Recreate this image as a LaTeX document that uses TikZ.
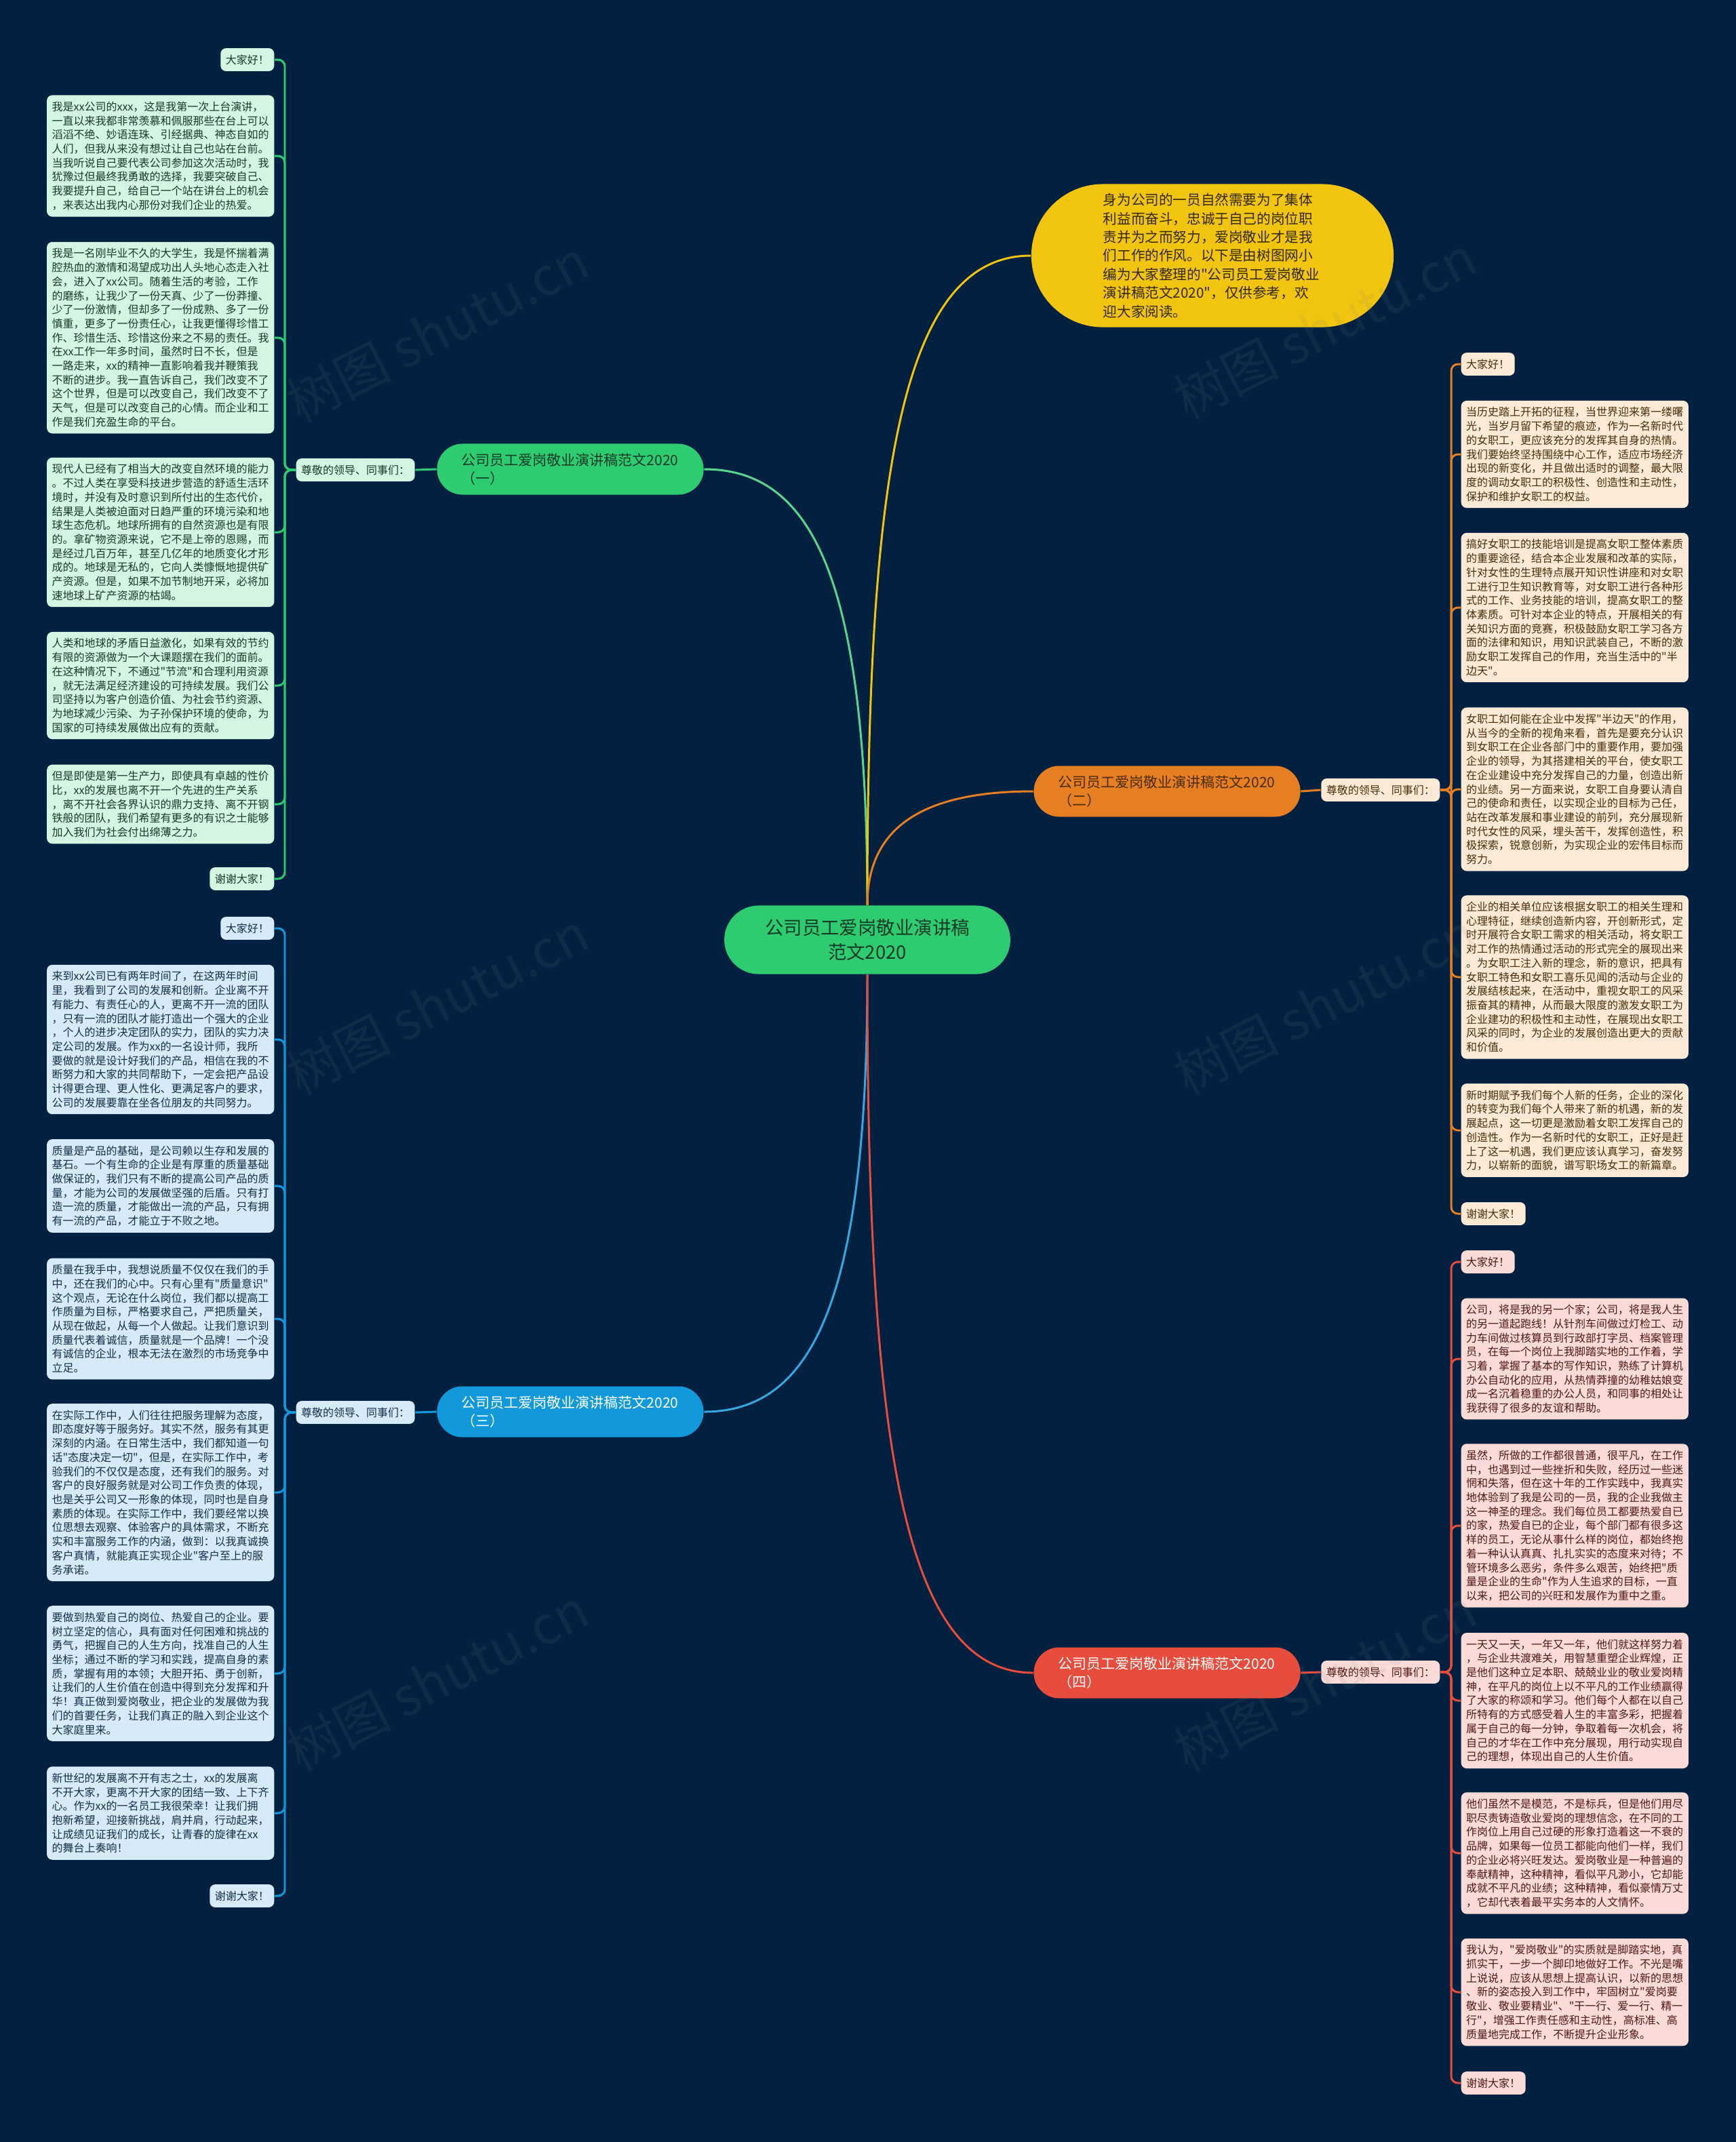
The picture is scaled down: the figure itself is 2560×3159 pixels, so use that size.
\documentclass[tikz,border=0pt]{standalone}
\usepackage{fontspec}
\setmainfont{Noto Sans CJK SC}[Ligatures=TeXOff]
\usetikzlibrary{shapes.misc}
\definecolor{bgnavy}{RGB}{2,33,64}
\definecolor{gmain}{RGB}{46,204,113}
\definecolor{omain}{RGB}{230,126,34}
\definecolor{bmain}{RGB}{17,153,220}
\definecolor{rmain}{RGB}{231,76,60}
\definecolor{ymain}{RGB}{241,196,15}
\definecolor{gleaf}{RGB}{213,245,227}
\definecolor{bleaf}{RGB}{214,234,248}
\definecolor{oleaf}{RGB}{252,234,214}
\definecolor{rleaf}{RGB}{250,219,216}
\definecolor{gink}{RGB}{22,58,38}
\definecolor{bink}{RGB}{20,46,74}
\definecolor{oink}{RGB}{74,44,12}
\definecolor{rink}{RGB}{80,24,18}
\definecolor{yink}{RGB}{50,40,5}
\tikzset{
	small/.style={font=\fontsize{4.55pt}{5.89pt}\selectfont},
	leaf/.style={small, rectangle, rounded corners=2.3pt,
		inner xsep=0.075cm, inner ysep=0.095cm,
		text width=3.2cm, align=left},
	tag/.style={small, rectangle, rounded corners=2.3pt,
		inner xsep=0.075cm, inner ysep=0.095cm},
	leafg/.style={leaf, fill=gleaf, text=gink},
	leafb/.style={leaf, fill=bleaf, text=bink},
	leafo/.style={leaf, fill=oleaf, text=oink},
	leafr/.style={leaf, fill=rleaf, text=rink},
	tagg/.style={tag, fill=gleaf, text=gink},
	tagb/.style={tag, fill=bleaf, text=bink},
	tago/.style={tag, fill=oleaf, text=oink},
	tagr/.style={tag, fill=rleaf, text=rink},
	branch/.style={rounded rectangle, minimum width=3.93cm,
		minimum height=0.75cm, inner xsep=0pt, inner ysep=0pt,
		text width=3.2cm, align=left,
		font=\fontsize{5.97pt}{7.68pt}\selectfont},
	link/.style={line width=0.85pt},
	tree/.style={line width=0.85pt, rounded corners=2.8pt},
	wmark/.style={rotate=27, text=gray, text opacity=0.11,
		font=\fontsize{22pt}{22pt}\selectfont}
}
\begin{document}
\begin{tikzpicture}[x=0.01cm, y=-0.01cm]
	\fill[bgnavy] (0,0) rectangle (2560,3159);
	\useasboundingbox (0,0) rectangle (2560,3159);

	% centre and main topics
	\node[rounded rectangle, fill=gmain, text=gink, minimum width=4.45cm,
		minimum height=1.01cm, align=center,
		font=\fontsize{7.8pt}{10pt}\selectfont] (root) at (1279,1386)
		{公司员工爱岗敬业演讲稿\\范文2020};
	\node[rounded rectangle, fill=ymain, text=yink, minimum width=5.34cm,
		minimum height=2.11cm, inner xsep=0pt, text width=3.22cm, align=left,
		font=\fontsize{5.86pt}{7.8pt}\selectfont] (intro) at (1788,377)
		{身为公司的一员自然需要为了集体\\利益而奋斗，忠诚于自己的岗位职\\责并为之而努力，爱岗敬业才是我\\们工作的作风。以下是由树图网小\\编为大家整理的"公司员工爱岗敬业\\演讲稿范文2020"，仅供参考，欢\\迎大家阅读。};
	\node[branch, fill=gmain, text=gink] (b1) at (841,692) {公司员工爱岗敬业演讲稿范文2020\\（一）};
	\node[branch, fill=omain, text=oink] (b2) at (1721,1167) {公司员工爱岗敬业演讲稿范文2020\\（二）};
	\node[branch, fill=bmain, text=white] (b3) at (841,2082) {公司员工爱岗敬业演讲稿范文2020\\（三）};
	\node[branch, fill=rmain, text=white] (b4) at (1721,2467) {公司员工爱岗敬业演讲稿范文2020\\（四）};

	\node[tagg, anchor=west] (lab1) at (436,693) {尊敬的领导、同事们：};
	\node[tago, anchor=east] (lab2) at (2124,1165) {尊敬的领导、同事们：};
	\node[tagb, anchor=west] (lab3) at (436,2083) {尊敬的领导、同事们：};
	\node[tagr, anchor=east] (lab4) at (2124,2466) {尊敬的领导、同事们：};

	% speech one
	\node[tagg, anchor=east] (g0) at (405,88) {大家好！};
	\node[leafg, anchor=east] (g1) at (405,230) {我是xx公司的xxx，这是我第一次上台演讲，\\一直以来我都非常羡慕和佩服那些在台上可以\\滔滔不绝、妙语连珠、引经据典、神态自如的\\人们，但我从来没有想过让自己也站在台前。\\当我听说自己要代表公司参加这次活动时，我\\犹豫过但最终我勇敢的选择，我要突破自己、\\我要提升自己，给自己一个站在讲台上的机会\\，来表达出我内心那份对我们企业的热爱。};
	\node[leafg, anchor=east] (g2) at (405,498) {我是一名刚毕业不久的大学生，我是怀揣着满\\腔热血的激情和渴望成功出人头地心态走入社\\会，进入了xx公司。随着生活的考验，工作\\的磨练，让我少了一份天真、少了一份莽撞、\\少了一份激情，但却多了一份成熟、多了一份\\慎重，更多了一份责任心，让我更懂得珍惜工\\作、珍惜生活、珍惜这份来之不易的责任。我\\在xx工作一年多时间，虽然时日不长，但是\\一路走来，xx的精神一直影响着我并鞭策我\\不断的进步。我一直告诉自己，我们改变不了\\这个世界，但是可以改变自己，我们改变不了\\天气，但是可以改变自己的心情。而企业和工\\作是我们充盈生命的平台。};
	\node[leafg, anchor=east] (g3) at (405,785) {现代人已经有了相当大的改变自然环境的能力\\。不过人类在享受科技进步营造的舒适生活环\\境时，并没有及时意识到所付出的生态代价，\\结果是人类被迫面对日趋严重的环境污染和地\\球生态危机。地球所拥有的自然资源也是有限\\的。拿矿物资源来说，它不是上帝的恩赐，而\\是经过几百万年，甚至几亿年的地质变化才形\\成的。地球是无私的，它向人类慷慨地提供矿\\产资源。但是，如果不加节制地开采，必将加\\速地球上矿产资源的枯竭。};
	\node[leafg, anchor=east] (g4) at (405,1011) {人类和地球的矛盾日益激化，如果有效的节约\\有限的资源做为一个大课题摆在我们的面前。\\在这种情况下，不通过"节流"和合理利用资源\\，就无法满足经济建设的可持续发展。我们公\\司坚持以为客户创造价值、为社会节约资源、\\为地球减少污染、为子孙保护环境的使命，为\\国家的可持续发展做出应有的贡献。};
	\node[leafg, anchor=east] (g5) at (405,1186) {但是即使是第一生产力，即使具有卓越的性价\\比，xx的发展也离不开一个先进的生产关系\\，离不开社会各界认识的鼎力支持、离不开钢\\铁般的团队，我们希望有更多的有识之士能够\\加入我们为社会付出绵薄之力。};
	\node[tagg, anchor=east] (g6) at (405,1296) {谢谢大家！};

	% speech two
	\node[tago, anchor=west] (o0) at (2154,537) {大家好！};
	\node[leafo, anchor=west] (o1) at (2154,670) {当历史踏上开拓的征程，当世界迎来第一缕曙\\光，当岁月留下希望的痕迹，作为一名新时代\\的女职工，更应该充分的发挥其自身的热情。\\我们要始终坚持围绕中心工作，适应市场经济\\出现的新变化，并且做出适时的调整，最大限\\度的调动女职工的积极性、创造性和主动性，\\保护和维护女职工的权益。};
	\node[leafo, anchor=west] (o2) at (2154,896) {搞好女职工的技能培训是提高女职工整体素质\\的重要途径，结合本企业发展和改革的实际，\\针对女性的生理特点展开知识性讲座和对女职\\工进行卫生知识教育等，对女职工进行各种形\\式的工作、业务技能的培训，提高女职工的整\\体素质。可针对本企业的特点，开展相关的有\\关知识方面的竞赛，积极鼓励女职工学习各方\\面的法律和知识，用知识武装自己，不断的激\\励女职工发挥自己的作用，充当生活中的"半\\边天"。};
	\node[leafo, anchor=west] (o3) at (2154,1164) {女职工如何能在企业中发挥"半边天"的作用，\\从当今的全新的视角来看，首先是要充分认识\\到女职工在企业各部门中的重要作用，要加强\\企业的领导，为其搭建相关的平台，使女职工\\在企业建设中充分发挥自己的力量，创造出新\\的业绩。另一方面来说，女职工自身要认清自\\己的使命和责任，以实现企业的目标为己任，\\站在改革发展和事业建设的前列，充分展现新\\时代女性的风采，埋头苦干，发挥创造性，积\\极探索，锐意创新，为实现企业的宏伟目标而\\努力。};
	\node[leafo, anchor=west] (o4) at (2154,1441) {企业的相关单位应该根据女职工的相关生理和\\心理特征，继续创造新内容，开创新形式，定\\时开展符合女职工需求的相关活动，将女职工\\对工作的热情通过活动的形式完全的展现出来\\。为女职工注入新的理念，新的意识，把具有\\女职工特色和女职工喜乐见闻的活动与企业的\\发展结核起来，在活动中，重视女职工的风采\\振奋其的精神，从而最大限度的激发女职工为\\企业建功的积极性和主动性，在展现出女职工\\风采的同时，为企业的发展创造出更大的贡献\\和价值。};
	\node[leafo, anchor=west] (o5) at (2154,1667) {新时期赋予我们每个人新的任务，企业的深化\\的转变为我们每个人带来了新的机遇，新的发\\展起点，这一切更是激励着女职工发挥自己的\\创造性。作为一名新时代的女职工，正好是赶\\上了这一机遇，我们更应该认真学习，奋发努\\力，以崭新的面貌，谱写职场女工的新篇章。};
	\node[tago, anchor=west] (o6) at (2154,1790) {谢谢大家！};

	% speech three
	\node[tagb, anchor=east] (c0) at (405,1369) {大家好！};
	\node[leafb, anchor=east] (c1) at (405,1533) {来到xx公司已有两年时间了，在这两年时间\\里，我看到了公司的发展和创新。企业离不开\\有能力、有责任心的人，更离不开一流的团队\\，只有一流的团队才能打造出一个强大的企业\\，个人的进步决定团队的实力，团队的实力决\\定公司的发展。作为xx的一名设计师，我所\\要做的就是设计好我们的产品，相信在我的不\\断努力和大家的共同帮助下，一定会把产品设\\计得更合理、更人性化、更满足客户的要求，\\公司的发展要靠在坐各位朋友的共同努力。};
	\node[leafb, anchor=east] (c2) at (405,1749) {质量是产品的基础，是公司赖以生存和发展的\\基石。一个有生命的企业是有厚重的质量基础\\做保证的，我们只有不断的提高公司产品的质\\量，才能为公司的发展做坚强的后盾。只有打\\造一流的质量，才能做出一流的产品，只有拥\\有一流的产品，才能立于不败之地。};
	\node[leafb, anchor=east] (c3) at (405,1945) {质量在我手中，我想说质量不仅仅在我们的手\\中，还在我们的心中。只有心里有"质量意识"\\这个观点，无论在什么岗位，我们都以提高工\\作质量为目标，严格要求自己，严把质量关，\\从现在做起，从每一个人做起。让我们意识到\\质量代表着诚信，质量就是一个品牌！一个没\\有诚信的企业，根本无法在激烈的市场竞争中\\立足。};
	\node[leafb, anchor=east] (c4) at (405,2201) {在实际工作中，人们往往把服务理解为态度，\\即态度好等于服务好。其实不然，服务有其更\\深刻的内涵。在日常生活中，我们都知道一句\\话"态度决定一切"，但是，在实际工作中，考\\验我们的不仅仅是态度，还有我们的服务。对\\客户的良好服务就是对公司工作负责的体现，\\也是关乎公司又一形象的体现，同时也是自身\\素质的体现。在实际工作中，我们要经常以换\\位思想去观察、体验客户的具体需求，不断充\\实和丰富服务工作的内涵，做到：以我真诚换\\客户真情，就能真正实现企业"客户至上的服\\务承诺。};
	\node[leafb, anchor=east] (c5) at (405,2468) {要做到热爱自己的岗位、热爱自己的企业。要\\树立坚定的信心，具有面对任何困难和挑战的\\勇气，把握自己的人生方向，找准自己的人生\\坐标；通过不断的学习和实践，提高自身的素\\质，掌握有用的本领；大胆开拓、勇于创新，\\让我们的人生价值在创造中得到充分发挥和升\\华！真正做到爱岗敬业，把企业的发展做为我\\们的首要任务，让我们真正的融入到企业这个\\大家庭里来。};
	\node[leafb, anchor=east] (c6) at (405,2674) {新世纪的发展离不开有志之士，xx的发展离\\不开大家，更离不开大家的团结一致、上下齐\\心。作为xx的一名员工我很荣幸！让我们拥\\抱新希望，迎接新挑战，肩并肩，行动起来，\\让成绩见证我们的成长，让青春的旋律在xx\\的舞台上奏响！};
	\node[tagb, anchor=east] (c7) at (405,2796) {谢谢大家！};

	% speech four
	\node[tagr, anchor=west] (r0) at (2154,1861) {大家好！};
	\node[leafr, anchor=west] (r1) at (2154,2004) {公司，将是我的另一个家；公司，将是我人生\\的另一道起跑线！从针剂车间做过灯检工、动\\力车间做过核算员到行政部打字员、档案管理\\员，在每一个岗位上我脚踏实地的工作着，学\\习着，掌握了基本的写作知识，熟练了计算机\\办公自动化的应用，从热情莽撞的幼稚姑娘变\\成一名沉着稳重的办公人员，和同事的相处让\\我获得了很多的友谊和帮助。};
	\node[leafr, anchor=west] (r2) at (2154,2250) {虽然，所做的工作都很普通，很平凡，在工作\\中，也遇到过一些挫折和失败，经历过一些迷\\惘和失落，但在这十年的工作实践中，我真实\\地体验到了我是公司的一员，我的企业我做主\\这一神圣的理念。我们每位员工都要热爱自已\\的家，热爱自已的企业，每个部门都有很多这\\样的员工，无论从事什么样的岗位，都始终抱\\着一种认认真真、扎扎实实的态度来对待；不\\管环境多么恶劣，条件多么艰苦，始终把"质\\量是企业的生命"作为人生追求的目标，一直\\以来，把公司的兴旺和发展作为重中之重。};
	\node[leafr, anchor=west] (r3) at (2154,2508) {一天又一天，一年又一年，他们就这样努力着\\，与企业共渡难关，用智慧重塑企业辉煌，正\\是他们这种立足本职、兢兢业业的敬业爱岗精\\神，在平凡的岗位上以不平凡的工作业绩赢得\\了大家的称颂和学习。他们每个人都在以自己\\所特有的方式感受着人生的丰富多彩，把握着\\属于自己的每一分钟，争取着每一次机会，将\\自己的才华在工作中充分展现，用行动实现自\\己的理想，体现出自己的人生价值。};
	\node[leafr, anchor=west] (r4) at (2154,2733) {他们虽然不是模范，不是标兵，但是他们用尽\\职尽责铸造敬业爱岗的理想信念，在不同的工\\作岗位上用自己过硬的形象打造着这一不衰的\\品牌，如果每一位员工都能向他们一样，我们\\的企业必将兴旺发达。爱岗敬业是一种普遍的\\奉献精神，这种精神，看似平凡渺小，它却能\\成就不平凡的业绩；这种精神，看似豪情万丈\\，它却代表着最平实务本的人文情怀。};
	\node[leafr, anchor=west] (r5) at (2154,2938) {我认为，"爱岗敬业"的实质就是脚踏实地，真\\抓实干，一步一个脚印地做好工作。不光是嘴\\上说说，应该从思想上提高认识，以新的思想\\、新的姿态投入到工作中，牢固树立"爱岗要\\敬业、敬业要精业"、"干一行、爱一行、精一\\行"，增强工作责任感和主动性，高标准、高\\质量地完成工作，不断提升企业形象。};
	\node[tagr, anchor=west] (r6) at (2154,3072) {谢谢大家！};

	% connectors
	\draw[link, gmain!80!white] (root.north) .. controls +(0,-480) and +(160,0) .. (b1.east);
	\draw[link, ymain] (root.north) .. controls +(0,-640) and +(-190,0) .. (intro.west);
	\draw[link, omain] (root.north) .. controls +(0,-110) and +(-170,0) .. (b2.west);
	\draw[link, bmain!85!white] (root.south) .. controls +(0,480) and +(160,0) .. (b3.east);
	\draw[link, rmain] (root.south) .. controls +(0,700) and +(-190,0) .. (b4.west);

	\draw[link, gmain] (b1.west) -- (lab1.east);
	\draw[link, omain] (b2.east) -- (lab2.west);
	\draw[link, bmain] (b3.west) -- (lab3.east);
	\draw[link, rmain] (b4.east) -- (lab4.west);

	\foreach \n in {g0,g1,g2,g3,g4,g5,g6}
		\draw[tree, gmain] (lab1.west) -- ++(-16,0) |- (\n.east);
	\foreach \n in {o0,o1,o2,o3,o4,o5,o6}
		\draw[tree, omain] (lab2.east) -- ++(16,0) |- (\n.west);
	\foreach \n in {c0,c1,c2,c3,c4,c5,c6,c7}
		\draw[tree, bmain] (lab3.west) -- ++(-16,0) |- (\n.east);
	\foreach \n in {r0,r1,r2,r3,r4,r5,r6}
		\draw[tree, rmain] (lab4.east) -- ++(16,0) |- (\n.west);

	% watermark
	\foreach \wx/\wy [count=\i] in {645/488, 1954/483, 645/1480, 1954/1480, 645/2477, 1954/2477}
		\node[wmark] (wm\i) at (\wx,\wy) {树图 shutu.cn};
\end{tikzpicture}
\end{document}
